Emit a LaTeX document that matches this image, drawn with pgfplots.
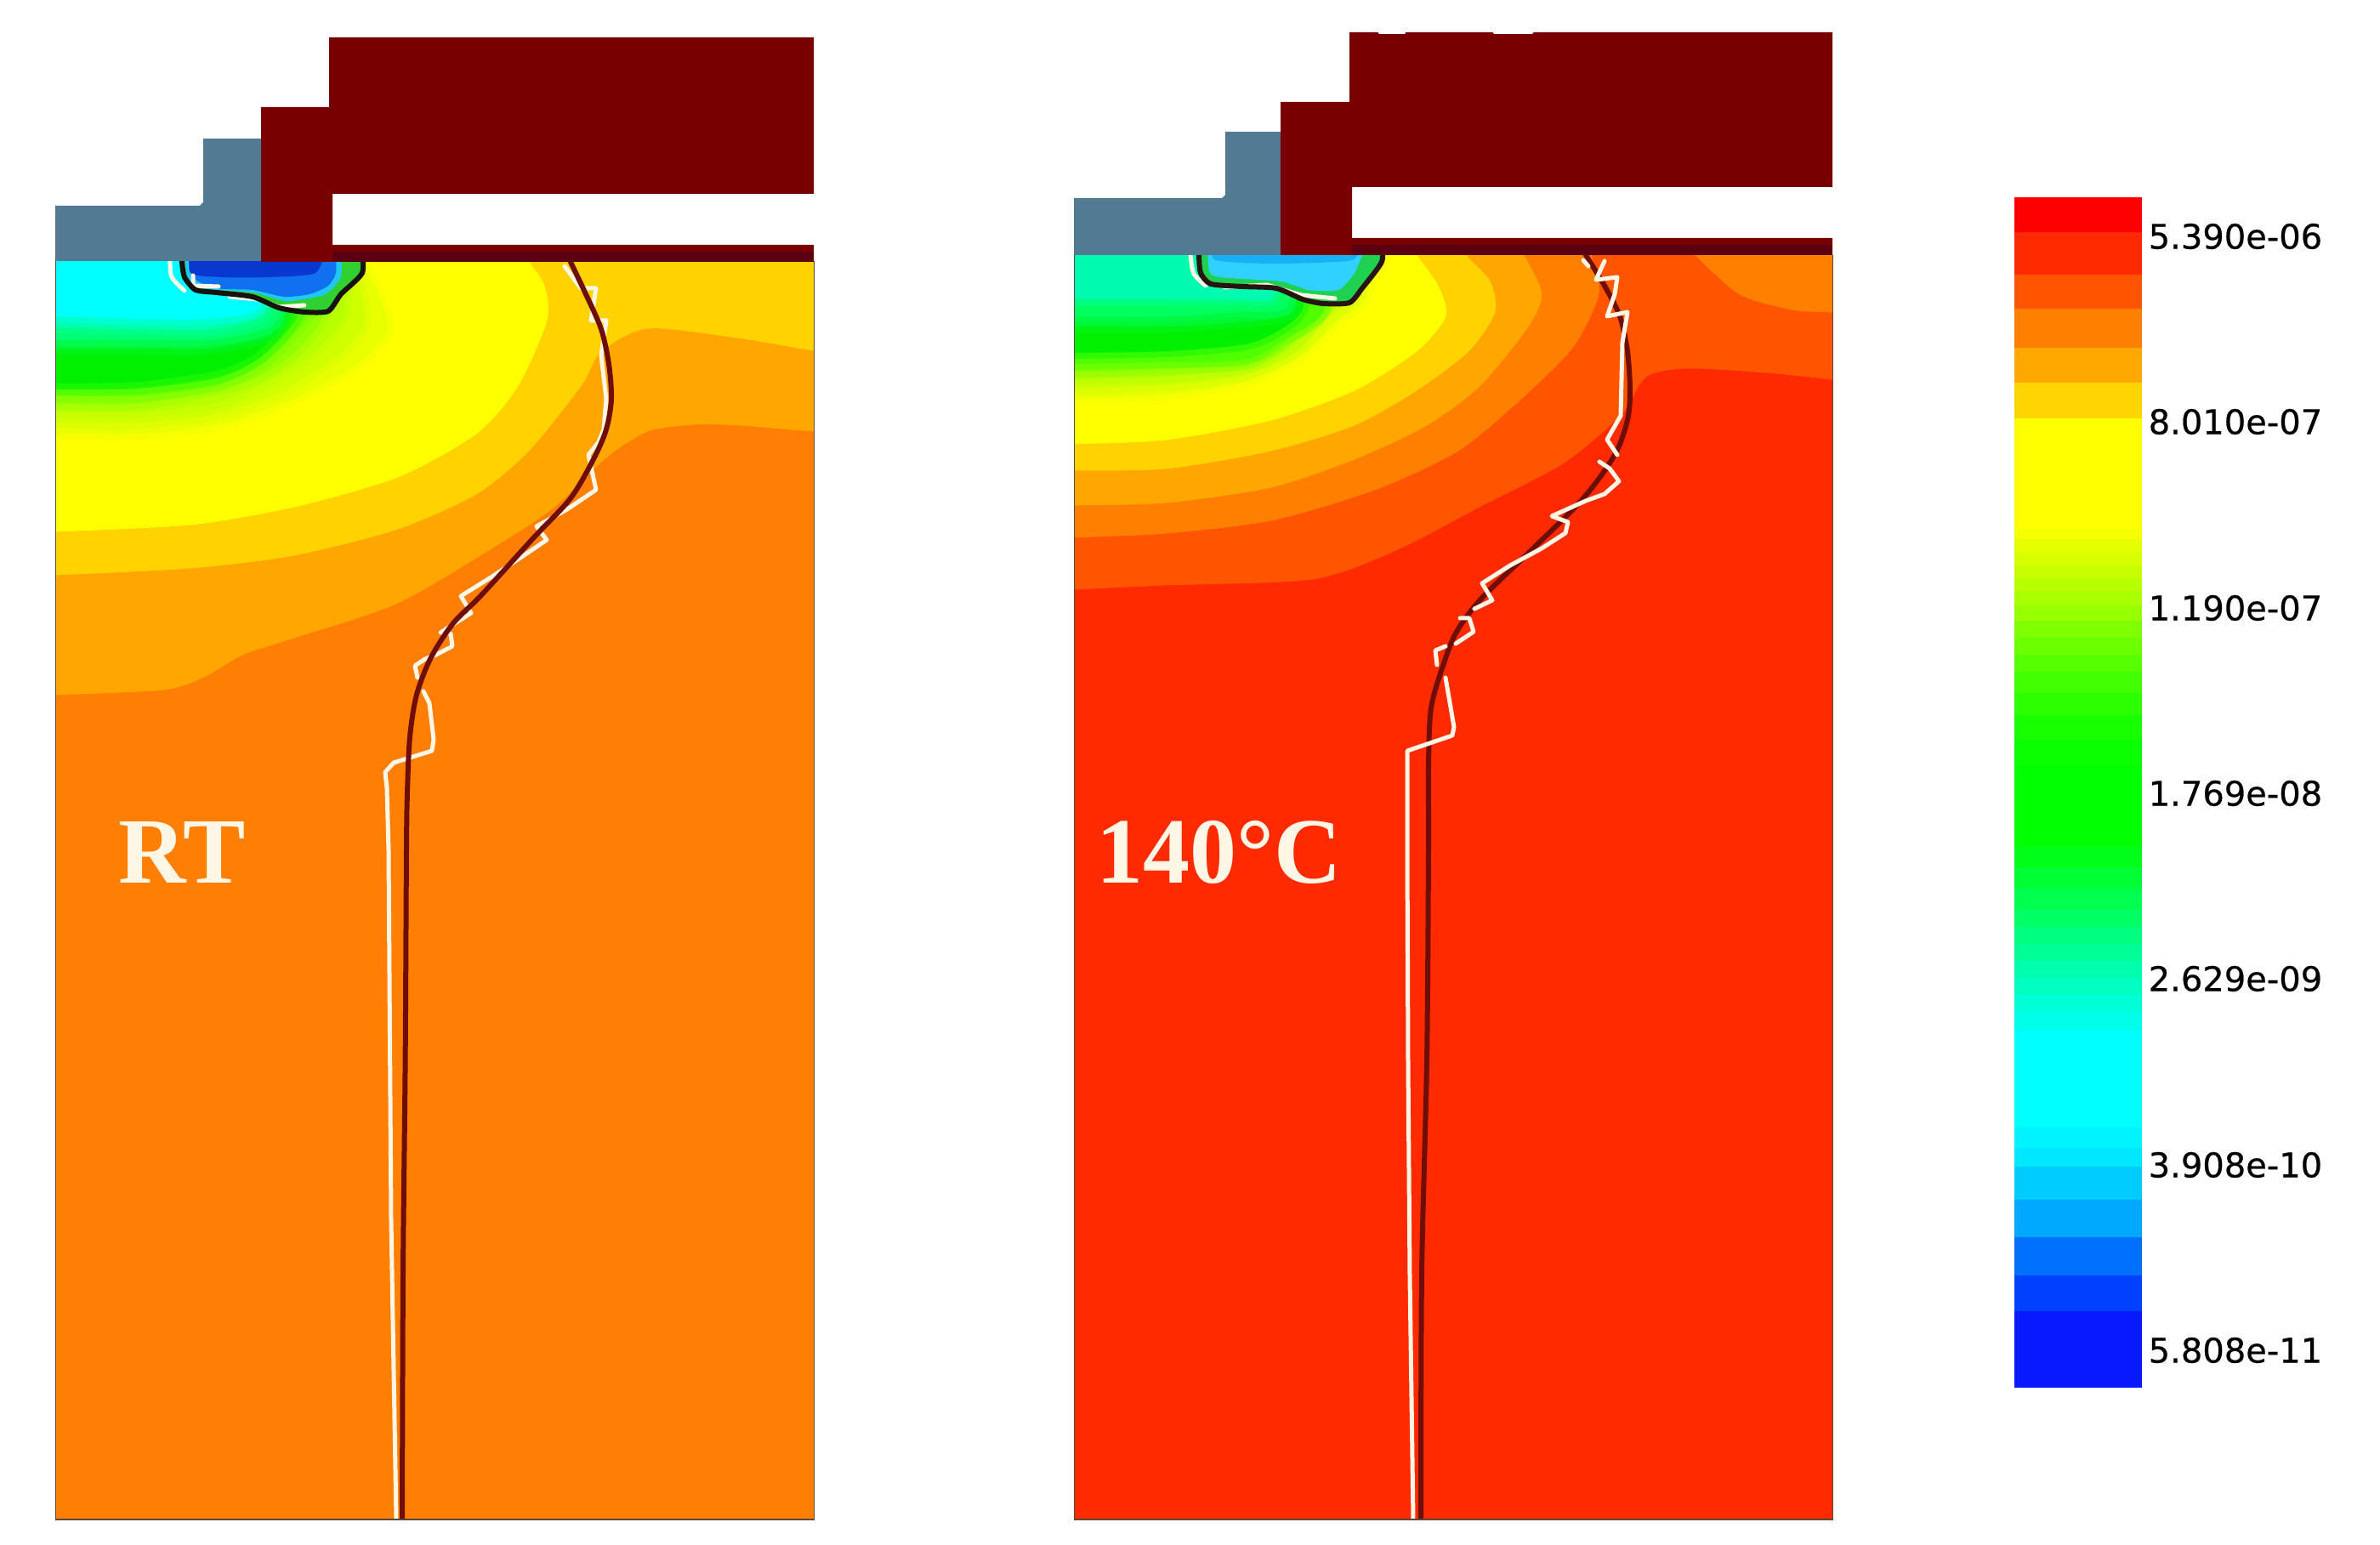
\documentclass[border=0pt]{standalone}
\usepackage{fontspec}
\setmainfont{Liberation Serif}
\newfontfamily\lab{DejaVu Sans}[FakeBold=0.5]
\usepackage{pgfplots}
\pgfplotsset{compat=1.18}
\pgfplotsset{base/.style={x=0.25pt,y=0.25pt,y dir=reverse,hide axis,clip=true,anchor=north west},
 lev/.style={fill={#1},draw={#1},line width=0.2pt,smooth,tension=0.45},
 glev/.style={fill={#1},draw={#1},line width=3.5pt,draw opacity=0.4,smooth,tension=0.45},
 poly/.style={fill={#1},draw=none},
 brown/.style={draw=brown1,line width=1.5pt,smooth,tension=0.5,fill=none},
 wht/.style={draw=white1,line width=1.25pt,line join=round,line cap=round,fill=none}}
\definecolor{brown1}{HTML}{6E0E06}
\definecolor{white1}{HTML}{FFF6E6}
\definecolor{dred}{HTML}{780000}
\definecolor{dred2}{HTML}{5A0010}
\definecolor{slate}{HTML}{527A93}
\definecolor{edgec}{HTML}{5A4A3A}
\newcommand{\barrect}[5]{\addplot[fill={rgb,255:red,#3;green,#4;blue,#5},draw={rgb,255:red,#3;green,#4;blue,#5},line width=0.1pt] coordinates {(2369,#1)(2518,#1)(2518,#2)(2369,#2)} --cycle;}
\begin{document}
\begin{tikzpicture}
% page frame
\begin{axis}[base,at={(0pt,454.25pt)},xmin=0,xmax=2799,ymin=0,ymax=1817]
\addplot[fill=white,draw=none] coordinates {(0,0)(2799,0)(2799,1817)(0,1817)} --cycle;
\end{axis}
% ---------- left field
\begin{axis}[base,at={(16.5pt,377.5pt)},xmin=66,xmax=957,ymin=307,ymax=1787]
\addplot[poly={rgb,255:red,255;green,127;blue,5}] coordinates {(66,307)(957,307)(957,1787)(66,1787)} --cycle;
\addplot[lev={rgb,255:red,255;green,166;blue,0}] coordinates {(1000,507)(956,507)(870,500)(817,499)(762,507)(713,538)(652,596)(591,637)(468,709)(346,750)(285,770)(242,795)(193,811)(66,817)(20,820)(20,250)(1000,250)};
\addplot[lev={rgb,255:red,255;green,210;blue,0}] coordinates {(1000,418)(956,412)(866,397)(762,386)(707,413)(683,454)(622,530)(560,581)(468,622)(346,653)(224,668)(66,676)(20,677)(20,250)(1000,250)};
\addplot[lev={rgb,255:red,255;green,255;blue,0}] coordinates {(610,290)(622,308)(640,336)(643,377)(609,454)(560,510)(468,561)(346,596)(224,617)(66,625)(20,626)(20,250)(500,250)};
\addplot[glev={rgb,255:red,232;green,255;blue,0}] coordinates {(420,290)(426,308)(444,346)(456,387)(420,428)(346,469)(254,500)(162,510)(66,510)(20,510)(20,250)};
\addplot[glev={rgb,255:red,208;green,255;blue,0}] coordinates {(410,290)(413,308)(425,346)(428,382)(395,420)(330,460)(254,487)(162,497)(66,497)(20,497)(20,250)};
\addplot[glev={rgb,255:red,184;green,255;blue,0}] coordinates {(398,290)(401,308)(407,346)(401,377)(371,413)(315,449)(254,474)(162,484)(66,484)(20,484)(20,250)};
\addplot[glev={rgb,255:red,148;green,255;blue,0}] coordinates {(380,290)(382,308)(385,355)(373,385)(340,420)(285,451)(162,475)(66,475)(20,475)(20,250)};
\addplot[glev={rgb,255:red,112;green,255;blue,0}] coordinates {(364,290)(364,308)(364,367)(346,392)(309,428)(254,454)(162,466)(66,466)(20,466)(20,250)};
\addplot[glev={rgb,255:red,40;green,250;blue,0}] coordinates {(350,290)(350,308)(352,365)(336,392)(303,423)(254,445)(162,457)(66,458)(20,458)(20,250)};
\addplot[glev={rgb,255:red,0;green,240;blue,0}] coordinates {(340,290)(340,308)(340,362)(328,387)(297,418)(254,436)(162,449)(66,451)(20,451)(20,250)};
\addplot[glev={rgb,255:red,0;green,248;blue,56}] coordinates {(338,290)(338,308)(333,378)(308,398)(242,410)(162,410)(66,410)(20,410)(20,250)};
\addplot[glev={rgb,255:red,0;green,255;blue,112}] coordinates {(334,290)(334,308)(328,372)(303,390)(242,400)(162,400)(66,400)(20,400)(20,250)};
\addplot[glev={rgb,255:red,0;green,255;blue,176}] coordinates {(322,290)(322,308)(315,362)(297,377)(242,388)(162,387)(66,385)(20,385)(20,250)};
\addplot[glev={rgb,255:red,0;green,255;blue,255}] coordinates {(309,290)(309,308)(309,352)(297,367)(248,375)(162,375)(66,372)(20,372)(20,250)};
% well
\addplot[poly={rgb,255:red,48;green,208;blue,48},smooth,tension=0.4] coordinates {(214,290)(214,308)(217,326)(230,341)(254,344)(297,349)(328,362)(358,367)(386,366)(401,346)(426,321)(426,290)};
\addplot[poly={rgb,255:red,32;green,200;blue,240},smooth,tension=0.4] coordinates {(217,290)(220,326)(236,339)(297,344)(334,354)(358,352)(383,346)(401,326)(401,290)};
\addplot[poly={rgb,255:red,16;green,112;blue,240},smooth,tension=0.4] coordinates {(220,290)(227,326)(254,339)(297,341)(334,349)(364,346)(386,336)(395,321)(395,290)};
\addplot[poly={rgb,255:red,8;green,56;blue,208},smooth,tension=0.4] coordinates {(224,290)(224,321)(260,326)(315,326)(371,321)(383,290)};
\addplot[wht,smooth] coordinates {(200,308)(202,326)(217,342)};
\addplot[wht] coordinates {(227,324)(227,336)(257,337)};
\addplot[wht] coordinates {(270,349)(303,352)(328,361)(358,359)};
\addplot[draw={rgb,255:red,24;green,18;blue,14},line width=1.5pt,smooth,tension=0.4,fill=none] coordinates {(214,290)(214,308)(217,326)(230,341)(254,344)(297,349)(328,362)(358,367)(386,366)(401,346)(426,321)(426,290)};
% white trace
\addplot[wht] coordinates {(664,313)(675,328)(683,339)(701,339)(695,377)(713,377)(707,418)(713,469)(710,505)(704,520)(692,535)(701,576)(667,599)(631,619)(643,635)(609,658)(579,678)(542,701)(554,721)(518,744)(530,745)(532,760)(513,770)(500,775)(488,783)(491,797)};
\addplot[wht] coordinates {(498,813)(505,827)(510,870)(508,883)(463,897)(453,908)(455,927)(457,1000)(460,1435)(466,1787)};
% brown curve
\addplot[brown] coordinates {(665,295)(671,308)(689,346)(707,387)(716,428)(719,469)(713,505)(698,540)(671,586)(628,632)(566,700)(533,733)(507,773)(490,817)(482,867)(479,933)(478,1000)(476.6,1250)(474,1500)(473,1800)};
\end{axis}
% ---------- right field
\begin{axis}[base,at={(315.875pt,379.25pt)},xmin=1263.5,xmax=2155,ymin=300,ymax=1787]
\addplot[poly={rgb,255:red,255;green,42;blue,0}] coordinates {(1263,300)(2156,300)(2156,1787)(1263,1787)} --cycle;
\addplot[lev={rgb,255:red,255;green,85;blue,0}] coordinates {(2200,450)(2155,446)(2076,438)(1985,433)(1936,443)(1905,489)(1838,545)(1740,596)(1642,647)(1544,681)(1372,688)(1263,693)(1220,695)(1220,250)(2200,250)};
\addplot[lev={rgb,255:red,255;green,127;blue,0}] coordinates {(1860,280)(1871,300)(1880,346)(1850,408)(1789,469)(1715,530)(1617,576)(1495,612)(1372,627)(1263,632)(1220,634)(1220,250)(1800,250)};
\addplot[lev={rgb,255:red,255;green,127;blue,0}] coordinates {(1980,280)(1994,300)(2046,346)(2107,364)(2155,367)(2200,368)(2200,250)(2000,250)};
\addplot[lev={rgb,255:red,255;green,166;blue,0}] coordinates {(1780,280)(1792,300)(1813,346)(1795,387)(1740,454)(1678,500)(1593,540)(1495,573)(1372,591)(1263,594)(1220,595)(1220,250)(1700,250)};
\addplot[lev={rgb,255:red,255;green,210;blue,0}] coordinates {(1715,280)(1724,300)(1752,331)(1758,367)(1727,413)(1666,459)(1593,500)(1495,530)(1372,551)(1263,553)(1220,554)(1220,250)(1650,250)};
\addplot[lev={rgb,255:red,255;green,255;blue,0}] coordinates {(1655,280)(1666,300)(1691,336)(1700,372)(1666,413)(1593,459)(1495,494)(1372,517)(1263,522)(1220,523)(1220,250)(1600,250)};
\addplot[glev={rgb,255:red,232;green,255;blue,0}] coordinates {(1620,280)(1617,300)(1605,352)(1574,377)(1531,418)(1464,449)(1372,464)(1263,469)(1220,469)(1220,250)};
\addplot[glev={rgb,255:red,204;green,255;blue,0}] coordinates {(1600,280)(1598,300)(1588,351)(1565,372)(1525,413)(1464,441)(1372,453)(1263,457)(1220,457)(1220,250)};
\addplot[glev={rgb,255:red,176;green,255;blue,0}] coordinates {(1580,280)(1580,300)(1570,350)(1556,367)(1520,408)(1464,433)(1372,443)(1263,446)(1220,446)(1220,250)};
\addplot[glev={rgb,255:red,128;green,255;blue,0}] coordinates {(1566,280)(1566,300)(1563,358)(1535,383)(1492,416)(1464,428)(1372,434)(1263,437)(1220,437)(1220,250)};
\addplot[glev={rgb,255:red,80;green,255;blue,0}] coordinates {(1552,280)(1552,300)(1556,367)(1513,398)(1464,423)(1372,426)(1263,428)(1220,428)(1220,250)};
\addplot[glev={rgb,255:red,0;green,240;blue,0}] coordinates {(1535,280)(1535,300)(1532,362)(1507,387)(1464,405)(1372,413)(1263,415)(1220,415)(1220,250)};
\addplot[glev={rgb,255:red,0;green,248;blue,48}] coordinates {(1524,280)(1524,300)(1522,365)(1470,378)(1372,384)(1263,384)(1220,384)(1220,250)};
\addplot[glev={rgb,255:red,0;green,255;blue,96}] coordinates {(1515,280)(1515,300)(1513,362)(1452,367)(1372,372)(1263,372)(1220,372)(1220,250)};
\addplot[glev={rgb,255:red,0;green,250;blue,176}] coordinates {(1500,280)(1500,300)(1497,350)(1450,352)(1372,352)(1263,352)(1220,352)(1220,250)};
% well
\addplot[poly={rgb,255:red,32;green,208;blue,80},smooth,tension=0.4] coordinates {(1410,285)(1410,300)(1412,321)(1424,334)(1461,337)(1501,339)(1532,352)(1556,357)(1587,356)(1602,339)(1625,308)(1625,285)};
\addplot[poly={rgb,255:red,48;green,208;blue,255},smooth,tension=0.4] coordinates {(1420,285)(1422,318)(1434,326)(1507,331)(1538,341)(1574,341)(1593,321)(1608,285)};
\addplot[poly={rgb,255:red,24;green,176;blue,244},smooth,tension=0.4] coordinates {(1424,285)(1430,306)(1500,310)(1590,306)(1598,285)};
\addplot[wht,smooth] coordinates {(1400,300)(1404,322)(1418,336)};
\addplot[wht] coordinates {(1440,338)(1490,335)(1530,347)(1570,351)};
\addplot[draw={rgb,255:red,40;green,20;blue,16},line width=1.5pt,smooth,tension=0.4,fill=none] coordinates {(1410,285)(1410,300)(1412,321)(1424,334)(1461,337)(1501,339)(1532,352)(1556,357)(1587,356)(1602,339)(1625,308)(1625,285)};
% brown curve
\addplot[brown] coordinates {(1858,288)(1865,300)(1887,336)(1905,372)(1914,413)(1917,459)(1914,494)(1899,535)(1862,586)(1801,647)(1743,703)(1713,743)(1697,783)(1683,833)(1680,900)(1680,1000)(1678,1250)(1672,1500)(1671,1800)};
% white trace
\addplot[wht] coordinates {(1862,306)(1868,313)};
\addplot[wht] coordinates {(1887,307)(1877,329)(1902,326)(1899,346)(1890,372)(1914,367)(1908,403)(1906,489)(1890,517)(1902,535)};
\addplot[wht] coordinates {(1881,543)(1893,551)(1904,566)(1887,581)(1865,589)(1825,607)(1844,614)(1841,627)(1813,645)(1776,665)(1743,686)(1755,706)(1734,716)};
\addplot[wht] coordinates {(1717,727)(1728,727)(1733,743)(1712,757)};
\addplot[wht] coordinates {(1700,760)(1688,765)(1690,782)};
\addplot[wht] coordinates {(1700,797)(1710,855)(1708,865)(1655,883)(1655,1000)(1656,1250)(1658,1500)(1662,1787)};
\end{axis}
% ---------- solids, colour bar, text
\begin{axis}[base,at={(0pt,454.25pt)},xmin=0,xmax=2799,ymin=0,ymax=1817]
% left solids
\addplot[poly=slate] coordinates {(65,307)(65,242)(235,242)(239,238)(239,163)(310,163)(310,307)} --cycle;
\addplot[poly=dred] coordinates {(307,308)(307,126)(387,126)(387,44)(957,44)(957,228)(391,228)(391,288)(957,288)(957,308)} --cycle;
\addplot[poly=dred2] coordinates {(391,296)(957,296)(957,308)(391,308)} --cycle;
\addplot[draw=edgec,line width=0.35pt] coordinates {(65.5,307)(65.5,1787)(957.5,1787)(957.5,307)};
% right solids
\addplot[poly=slate] coordinates {(1263,300)(1263,233)(1437,233)(1441,229)(1441,155)(1510,155)(1510,300)} --cycle;
\addplot[poly=dred] coordinates {(1506,300)(1506,120)(1587,120)(1587,38)(2155,38)(2155,220)(1590,220)(1590,280)(2155,280)(2155,300)} --cycle;
\addplot[poly=dred2] coordinates {(1590,288)(2155,288)(2155,300)(1590,300)} --cycle;
\addplot[poly=white] coordinates {(1620,37)(1654,37)(1652,40)(1622,40)} --cycle;
\addplot[poly=white] coordinates {(1755,37)(1804,37)(1802,40)(1757,40)} --cycle;
\addplot[draw=edgec,line width=0.35pt] coordinates {(1263.5,300)(1263.5,1787)(2155.5,1787)(2155.5,300)};
% colour bar
\barrect{232}{273}{255}{0}{0}
\barrect{273}{323}{255}{42}{0}
\barrect{323}{363}{255}{85}{0}
\barrect{363}{409}{255}{127}{0}
\barrect{409}{450}{255}{168}{0}
\barrect{450}{492}{255}{212}{0}
\barrect{492}{622}{255}{255}{0}
\barrect{622}{635}{244}{255}{0}
\barrect{635}{650}{230}{255}{0}
\barrect{650}{665}{216}{255}{0}
\barrect{665}{680}{200}{255}{0}
\barrect{680}{695}{184}{255}{0}
\barrect{695}{712}{170}{255}{0}
\barrect{712}{730}{152}{255}{0}
\barrect{730}{750}{128}{255}{0}
\barrect{750}{770}{108}{255}{0}
\barrect{770}{790}{88}{255}{0}
\barrect{790}{815}{66}{255}{0}
\barrect{815}{841}{44}{255}{0}
\barrect{841}{870}{24}{255}{0}
\barrect{870}{900}{10}{255}{0}
\barrect{900}{996}{0}{255}{0}
\barrect{996}{1020}{0}{255}{24}
\barrect{1020}{1045}{0}{255}{52}
\barrect{1045}{1070}{0}{255}{78}
\barrect{1070}{1090}{0}{255}{100}
\barrect{1090}{1110}{0}{255}{128}
\barrect{1110}{1130}{0}{255}{150}
\barrect{1130}{1150}{0}{255}{172}
\barrect{1150}{1170}{0}{255}{192}
\barrect{1170}{1190}{0}{255}{214}
\barrect{1190}{1212}{0}{255}{234}
\barrect{1212}{1326}{0}{255}{255}
\barrect{1326}{1350}{0}{244}{255}
\barrect{1350}{1372}{0}{232}{255}
\barrect{1372}{1411}{0}{204}{255}
\barrect{1411}{1455}{0}{168}{255}
\barrect{1455}{1500}{0}{112}{255}
\barrect{1500}{1542}{0}{64}{255}
\barrect{1542}{1631}{8}{24}{255}
% colour-bar labels
\node[anchor=east,inner sep=0pt,font=\lab\fontsize{10}{12}\selectfont] at (2732,278) {5.390e-06};
\node[anchor=east,inner sep=0pt,font=\lab\fontsize{10}{12}\selectfont] at (2732,496) {8.010e-07};
\node[anchor=east,inner sep=0pt,font=\lab\fontsize{10}{12}\selectfont] at (2732,715) {1.190e-07};
\node[anchor=east,inner sep=0pt,font=\lab\fontsize{10}{12}\selectfont] at (2732,933) {1.769e-08};
\node[anchor=east,inner sep=0pt,font=\lab\fontsize{10}{12}\selectfont] at (2732,1151) {2.629e-09};
\node[anchor=east,inner sep=0pt,font=\lab\fontsize{10}{12}\selectfont] at (2732,1370) {3.908e-10};
\node[anchor=east,inner sep=0pt,font=\lab\fontsize{10}{12}\selectfont] at (2732,1588) {5.808e-11};
% panel labels
\node[text=white1,inner sep=0pt,font=\bfseries\fontsize{27.5}{30}\selectfont] at (214,1002) {RT};
\node[text=white1,inner sep=0pt,font=\bfseries\fontsize{27.5}{30}\selectfont] at (1434,1002) {140°C};
\end{axis}
\end{tikzpicture}
\end{document}
